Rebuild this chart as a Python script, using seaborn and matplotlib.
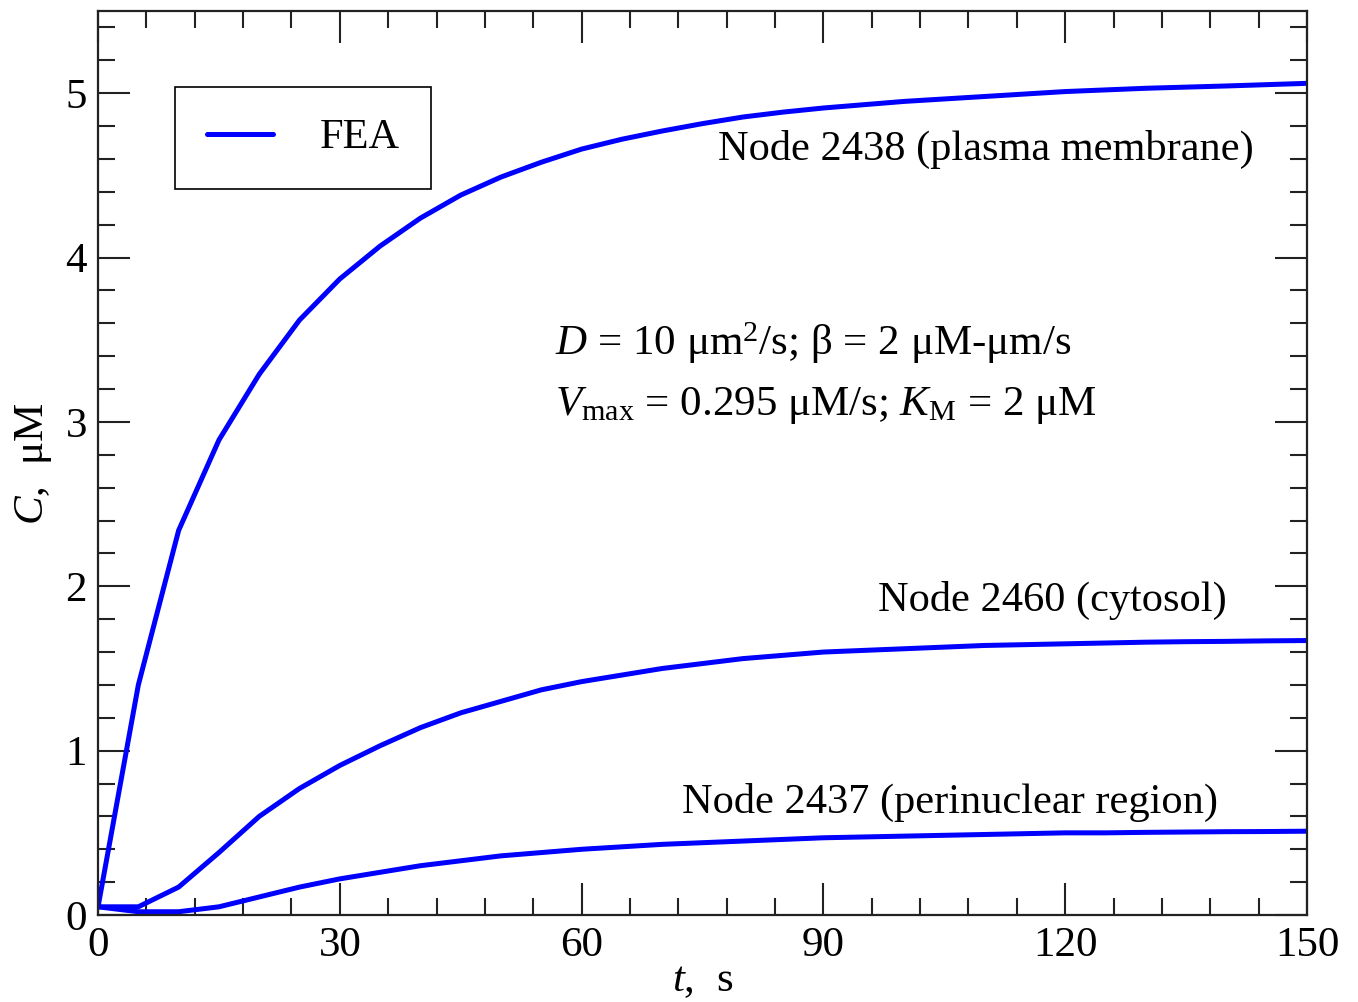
import matplotlib
matplotlib.use("Agg")
import matplotlib.pyplot as plt
import seaborn as sns
import numpy as np
import pandas as pd
from matplotlib.ticker import MultipleLocator

t = [0, 5, 10, 15, 20, 25, 30, 35, 40, 45, 50, 55, 60, 65, 70, 75, 80, 85, 90,
     95, 100, 105, 110, 115, 120, 125, 130, 135, 140, 145, 150]
node_2438 = [0.05, 1.40, 2.34, 2.89, 3.29, 3.62, 3.87, 4.07, 4.24, 4.38, 4.49, 4.58,
             4.66, 4.72, 4.77, 4.815, 4.855, 4.885, 4.91, 4.93, 4.95, 4.965, 4.98, 4.995,
             5.01, 5.02, 5.03, 5.037, 5.044, 5.052, 5.06]
node_2460 = [0.05, 0.05, 0.17, 0.38, 0.60, 0.77, 0.91, 1.03, 1.14, 1.23, 1.30, 1.37,
             1.42, 1.46, 1.50, 1.53, 1.56, 1.58, 1.60, 1.61, 1.62, 1.63, 1.64, 1.645,
             1.65, 1.655, 1.66, 1.663, 1.665, 1.668, 1.67]
node_2437 = [0.05, 0.02, 0.02, 0.05, 0.11, 0.17, 0.22, 0.26, 0.30, 0.33, 0.36, 0.38,
             0.40, 0.415, 0.43, 0.44, 0.45, 0.46, 0.47, 0.475, 0.48, 0.485, 0.49, 0.495,
             0.50, 0.50, 0.503, 0.505, 0.507, 0.508, 0.51]
labels = ["Node 2438 (plasma membrane)", "Node 2460 (cytosol)", "Node 2437 (perinuclear region)"]

sns.set_theme(style="ticks")
plt.rcParams['font.family'] = ['Liberation Serif', 'DejaVu Serif']
plt.rcParams['mathtext.fontset'] = 'custom'
plt.rcParams['mathtext.rm'] = 'Liberation Serif'
plt.rcParams['mathtext.it'] = 'Liberation Serif:italic'
for k in ['text.color', 'axes.labelcolor', 'xtick.color', 'ytick.color', 'axes.edgecolor']:
    plt.rcParams[k] = 'black'

fig = plt.figure(figsize=(13.58, 10.02), dpi=100)
ax = fig.add_axes([0.0722, 0.0868, 0.8902, 0.9022])

blue = '#0000ff'
for i, series in enumerate([node_2438, node_2460, node_2437]):
    df = pd.DataFrame({'t': t, 'C': series})
    sns.lineplot(data=df, x='t', y='C', ax=ax, color=blue, linewidth=3.6,
                 label='FEA' if i == 0 else None, legend=False)

ax.set_xlim(0, 150)
ax.set_ylim(0, 5.5)
ax.xaxis.set_major_locator(MultipleLocator(30))
ax.xaxis.set_minor_locator(MultipleLocator(6))
ax.yaxis.set_major_locator(MultipleLocator(1))
ax.yaxis.set_minor_locator(MultipleLocator(0.2))
ax.tick_params(which='both', direction='in', top=True, right=True, width=1.5, color='#222222')
ax.tick_params(which='major', length=23, labelsize=31, pad=8)
ax.tick_params(which='minor', length=12)
for s in ax.spines.values():
    s.set_linewidth(1.6)
    s.set_color('#222222')

ax.set_xlabel(r'$t$,  s', fontsize=31, labelpad=-2)
ax.set_ylabel(r'$C$,  μM', fontsize=31, labelpad=8)

fs = 30.5
ax.text(110.2, 4.66, labels[0], fontsize=fs, ha='center', va='center')
ax.text(118.4, 1.915, labels[1], fontsize=fs, ha='center', va='center')
ax.text(105.7, 0.687, labels[2], fontsize=fs, ha='center', va='center')
ax.text(56.7, 3.48, r'$D$ = 10 μm$^2$/s; β = 2 μM-μm/s', fontsize=31, ha='left', va='center')
ax.text(56.7, 3.10, r'$V_{\rm max}$ = 0.295 μM/s; $K_{\rm M}$ = 2 μM', fontsize=31, ha='left', va='center')

leg = ax.legend(handles=[ax.lines[0]], labels=['FEA'], loc='upper left',
                bbox_to_anchor=(0.064, 0.916), fontsize=fs, frameon=True, fancybox=False,
                edgecolor='black', handlelength=1.55, handletextpad=1.1,
                borderpad=0.75, borderaxespad=0)
leg.get_frame().set_linewidth(1.2)
leg.get_frame().set_alpha(1)

fig.savefig('out.png', dpi=100)
